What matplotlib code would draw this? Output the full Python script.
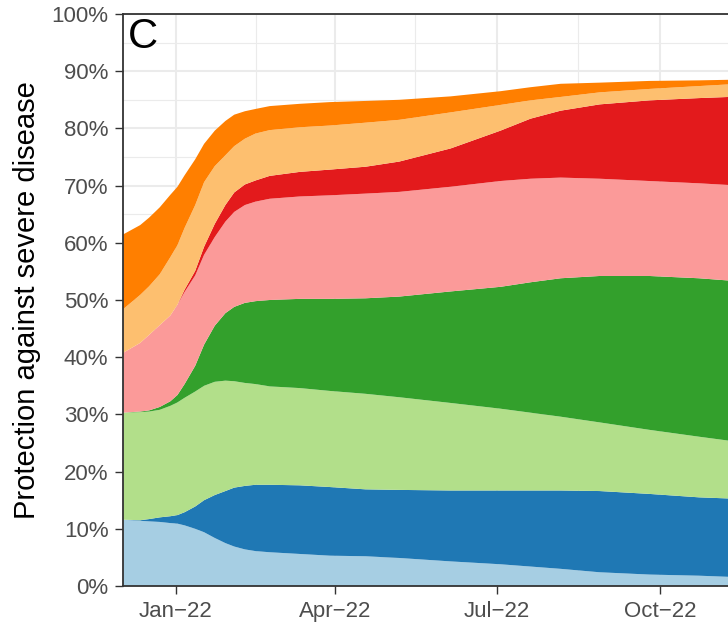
import datetime as dt
import matplotlib
matplotlib.use("Agg")
import matplotlib.pyplot as plt
import matplotlib.dates as mdates
from matplotlib.ticker import FixedLocator, FuncFormatter

# ---- data (layer thickness in %) ----
dates = ["2021-12-02", "2021-12-12", "2021-12-17", "2021-12-23", "2021-12-29",
         "2022-01-02", "2022-01-06", "2022-01-12", "2022-01-17", "2022-01-23",
         "2022-01-29", "2022-02-03", "2022-02-09", "2022-02-15", "2022-02-23",
         "2022-03-12", "2022-03-29", "2022-04-18", "2022-05-07", "2022-06-05",
         "2022-07-03", "2022-07-20", "2022-08-06", "2022-08-28", "2022-09-25",
         "2022-10-23", "2022-11-09"]

layer1 = [11.6, 11.4, 11.3, 11.2, 11.0, 10.9, 10.6, 10.0, 9.4, 8.4, 7.5, 6.9, 6.4,
          6.1, 5.9, 5.6, 5.3, 5.2, 4.9, 4.3, 3.8, 3.4, 3.0, 2.4, 2.0, 1.8, 1.6]
layer2 = [0.0, 0.1, 0.4, 0.8, 1.2, 1.5, 2.3, 3.9, 5.6, 7.5, 9.1, 10.3, 11.1,
          11.6, 11.8, 12.0, 12.0, 11.7, 11.9, 12.4, 12.9, 13.3, 13.7, 14.2, 14.1, 13.7, 13.7]
layer3 = [18.7, 18.9, 18.8, 18.8, 19.3, 19.7, 20.0, 20.1, 20.0, 19.8, 19.3, 18.6, 18.0,
          17.6, 17.2, 17.0, 16.8, 16.7, 16.2, 15.3, 14.3, 13.6, 12.9, 12.0, 11.2, 10.6, 10.1]
layer4 = [0.0, 0.1, 0.2, 0.5, 0.8, 1.3, 2.4, 4.5, 7.2, 9.8, 11.8, 13.0, 14.0,
          14.5, 15.1, 15.6, 16.1, 16.7, 17.6, 19.5, 21.3, 22.8, 24.2, 25.6, 26.9, 27.7, 28.0]
layer5 = [10.4, 12.0, 13.2, 14.3, 15.0, 15.8, 16.1, 15.8, 15.7, 15.5, 16.0, 16.6, 17.1,
          17.4, 17.7, 17.9, 18.1, 18.3, 18.3, 18.3, 18.5, 18.1, 17.6, 17.0, 16.6, 16.6, 16.7]
layer6 = [0.0, 0.0, 0.0, 0.0, 0.0, 0.0, 0.4, 0.8, 1.4, 2.3, 2.9, 3.4, 3.6,
          3.7, 4.0, 4.3, 4.5, 4.7, 5.3, 6.7, 8.8, 10.5, 11.7, 13.0, 14.1, 14.9, 15.4]
layer7 = [7.6, 8.4, 8.5, 8.9, 10.2, 10.4, 10.8, 11.5, 11.3, 10.1, 8.7, 8.1, 8.0,
          8.2, 8.0, 7.8, 7.7, 7.7, 7.3, 6.3, 4.5, 3.2, 2.4, 2.1, 2.0, 2.1, 2.2]
layer8 = [13.1, 12.2, 12.0, 11.7, 10.9, 10.2, 9.2, 8.0, 6.7, 6.2, 6.0, 5.5, 4.8,
          4.3, 4.2, 4.1, 4.1, 3.8, 3.5, 2.8, 2.4, 2.3, 2.3, 1.7, 1.4, 1.0, 0.8]

colors = ["#A6CEE3", "#1F78B4", "#B2DF8A", "#33A02C",
          "#FB9A99", "#E31A1C", "#FDBF6F", "#FF7F00"]

x_ticks = ["2022-01-01", "2022-04-01", "2022-07-01", "2022-10-01"]
x_tick_labels = ["Jan\u221222", "Apr\u221222", "Jul\u221222", "Oct\u221222"]
x_minor = ["2022-02-15", "2022-05-16", "2022-08-16"]
y_ticks = list(range(0, 101, 10))
y_minor = list(range(5, 100, 10))

ylabel = "Protection against severe disease"
panel = "C"

# ---- plot ----
plt.rcParams['font.family'] = ['Liberation Sans', 'DejaVu Sans']

W, H = 728, 623
fig = plt.figure(figsize=(W / 100, H / 100), dpi=100)
L, R, T, B = 123, 728, 14, 586
ax = fig.add_axes([L / W, (H - B) / H, (R - L) / W, (B - T) / H])

xd = [mdates.date2num(dt.datetime.fromisoformat(d)) for d in dates]
ax.stackplot(xd, layer1, layer2, layer3, layer4, layer5, layer6, layer7, layer8,
             colors=colors, linewidth=0, zorder=2)

x0 = mdates.date2num(dt.datetime(2021, 12, 2, 7))
x1 = mdates.date2num(dt.datetime(2022, 11, 8, 8))
ax.set_xlim(x0, x1)
ax.set_ylim(0, 100)

ax.xaxis.set_major_locator(FixedLocator([mdates.date2num(dt.datetime.fromisoformat(d)) for d in x_ticks]))
ax.xaxis.set_minor_locator(FixedLocator([mdates.date2num(dt.datetime.fromisoformat(d)) for d in x_minor]))
ax.set_xticklabels(x_tick_labels)
ax.yaxis.set_major_locator(FixedLocator(y_ticks))
ax.yaxis.set_minor_locator(FixedLocator(y_minor))
ax.yaxis.set_major_formatter(FuncFormatter(lambda v, p: f"{int(v)}%"))

ax.set_axisbelow(True)
ax.grid(which='major', color='#EBEBEB', linewidth=1.5, zorder=0)
ax.grid(which='minor', color='#EBEBEB', linewidth=0.8, zorder=0)

ax.tick_params(which='major', length=5.5, width=1.0, color='#333333',
               labelsize=16, labelcolor='#4D4D4D', pad=5)
ax.tick_params(which='minor', length=0)

for side in ['left', 'top', 'bottom']:
    ax.spines[side].set_color('#333333')
    ax.spines[side].set_linewidth(1.3)
    ax.spines[side].set_zorder(5)
ax.spines['right'].set_visible(False)

fig.text(27 / W, (H - 300) / H, ylabel, rotation=90, ha='center', va='center',
         fontsize=21, color='black')
ax.text(0.008, 0.995, panel, transform=ax.transAxes, ha='left', va='top',
        fontsize=30, color='black', zorder=6)

fig.savefig("out.png", dpi=100)
